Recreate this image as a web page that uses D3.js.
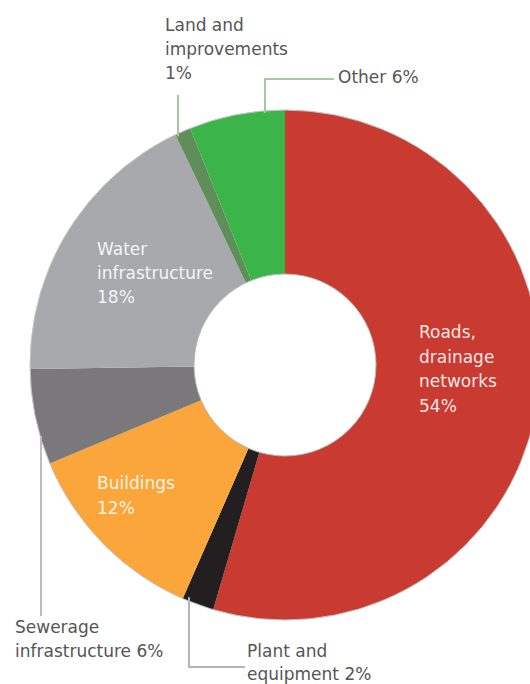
<!DOCTYPE html>
<html>
<head>
<meta charset="utf-8">
<script src="https://cdn.jsdelivr.net/npm/d3@7"></script>
<style>
  html, body { margin: 0; padding: 0; background: #fff; }
  svg { display: block; font-family: "DejaVu Sans", sans-serif; }
</style>
</head>
<body>
<script>
// Asset categories, clockwise from twelve o'clock
const categories = [
  "Roads, drainage networks",
  "Plant and equipment",
  "Buildings",
  "Sewerage infrastructure",
  "Water infrastructure",
  "Land and improvements",
  "Other"
];
const shares = [54, 2, 12, 6, 18, 1, 6];
const colors = ["#c93a30", "#231f20", "#fba63a", "#7b787b", "#a8a9ad", "#5f8e5b", "#3bb54a"];

// Label text lines per category
const labelLines = [
  ["Roads,", "drainage", "networks", "54%"],
  ["Plant and", "equipment 2%"],
  ["Buildings", "12%"],
  ["Sewerage", "infrastructure 6%"],
  ["Water", "infrastructure", "18%"],
  ["Land and", "improvements", "1%"],
  ["Other 6%"]
];

const W = 530, H = 684;
const cx = 285, cy = 365, R = 255, r0 = 91;

const svg = d3.select("body").append("svg")
  .attr("width", W).attr("height", H);

const data = categories.map((c, i) => ({ name: c, value: shares[i], color: colors[i], lines: labelLines[i] }));

const pie = d3.pie().sort(null).value(d => d.value);
const arc = d3.arc().innerRadius(r0).outerRadius(R);

const g = svg.append("g").attr("transform", `translate(${cx},${cy})`);

g.selectAll("path.slice")
  .data(pie(data))
  .join("path")
  .attr("class", "slice")
  .attr("d", arc)
  .attr("fill", d => d.data.color);

// thin rims around the ring
g.append("circle").attr("r", R).attr("fill", "none").attr("stroke", "#c4c4c4").attr("stroke-width", 1);
g.append("circle").attr("r", r0).attr("fill", "none").attr("stroke", "#b8b8b8").attr("stroke-width", 1);

// y of the outer rim at a given x (upper or lower half)
const rimY = (x, lower) => {
  const dx = x - cx;
  const h = Math.sqrt(R * R - dx * dx);
  return lower ? cy + h : cy - h;
};

// leader lines for outside labels
const leaders = [
  { pts: [[265, rimY(265, false) + 2], [265, 79], [334, 79]], color: "#a9c7a2" },
  { pts: [[178, 95], [178, rimY(178, false) + 3]], color: "#a9c3a4" },
  { pts: [[41, rimY(41, true) - 3], [41, 616]], color: "#bdbdbd" },
  { pts: [[189, rimY(189, true) - 4], [189, 667], [245, 667]], color: "#b5b5b5" }
];
const line = d3.line();
svg.selectAll("path.leader")
  .data(leaders)
  .join("path")
  .attr("class", "leader")
  .attr("d", d => line(d.pts))
  .attr("fill", "none")
  .attr("stroke", d => d.color)
  .attr("stroke-width", 2);

// label anchors: first baseline, line step, inside/outside
const labelLayout = {
  "Roads, drainage networks": { x: 419, y: 338, step: 24.5, inside: true },
  "Plant and equipment": { x: 247, y: 657, step: 23, inside: false },
  "Buildings": { x: 97, y: 489, step: 25, inside: true },
  "Sewerage infrastructure": { x: 15, y: 633, step: 24, inside: false },
  "Water infrastructure": { x: 97, y: 255, step: 24, inside: true },
  "Land and improvements": { x: 165, y: 31, step: 24, inside: false },
  "Other": { x: 338, y: 83, step: 24, inside: false }
};

const labels = svg.selectAll("text.lbl")
  .data(data)
  .join("text")
  .attr("class", "lbl")
  .attr("font-size", 17)
  .attr("fill", d => labelLayout[d.name].inside ? "#ffffff" : "#555555")
  .attr("fill-opacity", d => labelLayout[d.name].inside ? 0.9 : 1);

labels.selectAll("tspan")
  .data(d => d.lines.map((t, i) => ({ t, i, L: labelLayout[d.name] })))
  .join("tspan")
  .attr("x", d => d.L.x)
  .attr("y", d => d.L.y + d.i * d.L.step)
  .text(d => d.t);
</script>
</body>
</html>
